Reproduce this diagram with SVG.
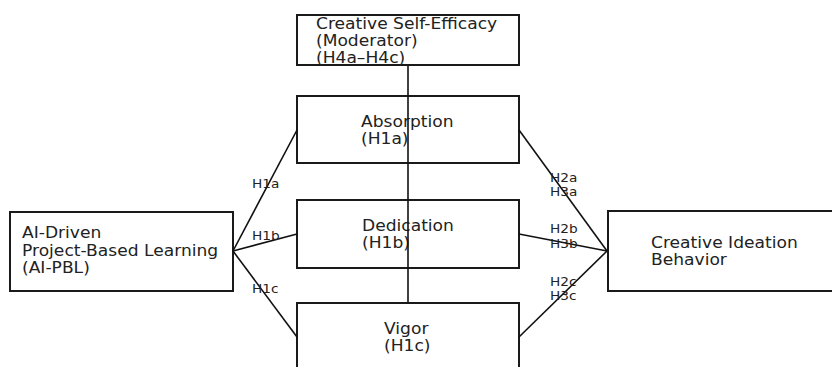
<svg xmlns="http://www.w3.org/2000/svg" width="832" height="367" viewBox="0 0 832 367">
<style>
.box{fill:#fff;stroke:#1a1a1a;stroke-width:2}
.t{font-family:"DejaVu Sans",sans-serif;font-size:15px;fill:#222}
.s{font-family:"DejaVu Sans",sans-serif;font-size:12px;fill:#222}
.e{stroke:#111;stroke-width:1.6;fill:none}
</style>
<rect width="832" height="367" fill="#fff"/>
<g id="moderator">
<rect class="box" x="297" y="15" width="222" height="50"/>
<text class="t" transform="translate(316,0) scale(1.14,1)"><tspan x="0" y="29">Creative Self-Efficacy</tspan><tspan x="0" y="46">(Moderator)</tspan><tspan x="0" y="63">(H4a–H4c)</tspan></text>
</g>
<g id="absorption">
<rect class="box" x="297" y="96" width="222" height="67"/>
<text class="t" transform="translate(361,0) scale(1.14,1)"><tspan x="0" y="127">Absorption</tspan><tspan x="0" y="144">(H1a)</tspan></text>
</g>
<g id="dedication">
<rect class="box" x="297" y="200" width="222" height="68"/>
<text class="t" transform="translate(362,0) scale(1.14,1)"><tspan x="0" y="231">Dedication</tspan><tspan x="0" y="248">(H1b)</tspan></text>
</g>
<g id="vigor">
<rect class="box" x="297" y="303" width="222" height="68"/>
<text class="t" transform="translate(384,0) scale(1.14,1)"><tspan x="0" y="334">Vigor</tspan><tspan x="0" y="351">(H1c)</tspan></text>
</g>
<g id="aipbl">
<rect class="box" x="10" y="212" width="223" height="79"/>
<text class="t" transform="translate(22,0) scale(1.14,1)"><tspan x="0" y="238">AI-Driven</tspan><tspan x="0" y="256">Project-Based Learning</tspan><tspan x="0" y="273">(AI-PBL)</tspan></text>
</g>
<g id="ideation">
<rect class="box" x="608" y="211" width="234" height="80"/>
<text class="t" transform="translate(651,0) scale(1.14,1)"><tspan x="0" y="248">Creative Ideation</tspan><tspan x="0" y="265">Behavior</tspan></text>
</g>
<g id="connectors">
<line class="e" x1="408" y1="66" x2="408" y2="303"/>
<line class="e" x1="233" y1="251" x2="297" y2="130"/>
<line class="e" x1="233" y1="251" x2="297" y2="234"/>
<line class="e" x1="233" y1="251" x2="297" y2="337"/>
<line class="e" x1="519" y1="130" x2="607" y2="251"/>
<line class="e" x1="519" y1="234" x2="607" y2="251"/>
<line class="e" x1="519" y1="337" x2="607" y2="251"/>
<text class="s" transform="translate(252,0) scale(1.14,1)"><tspan x="0" y="188">H1a</tspan><tspan x="0" y="240">H1b</tspan><tspan x="0" y="293">H1c</tspan></text>
<text class="s" transform="translate(550,0) scale(1.14,1)"><tspan x="0" y="182">H2a</tspan><tspan x="0" y="196">H3a</tspan><tspan x="0" y="233">H2b</tspan><tspan x="0" y="248">H3b</tspan><tspan x="0" y="286">H2c</tspan><tspan x="0" y="300">H3c</tspan></text>
</g>
</svg>
